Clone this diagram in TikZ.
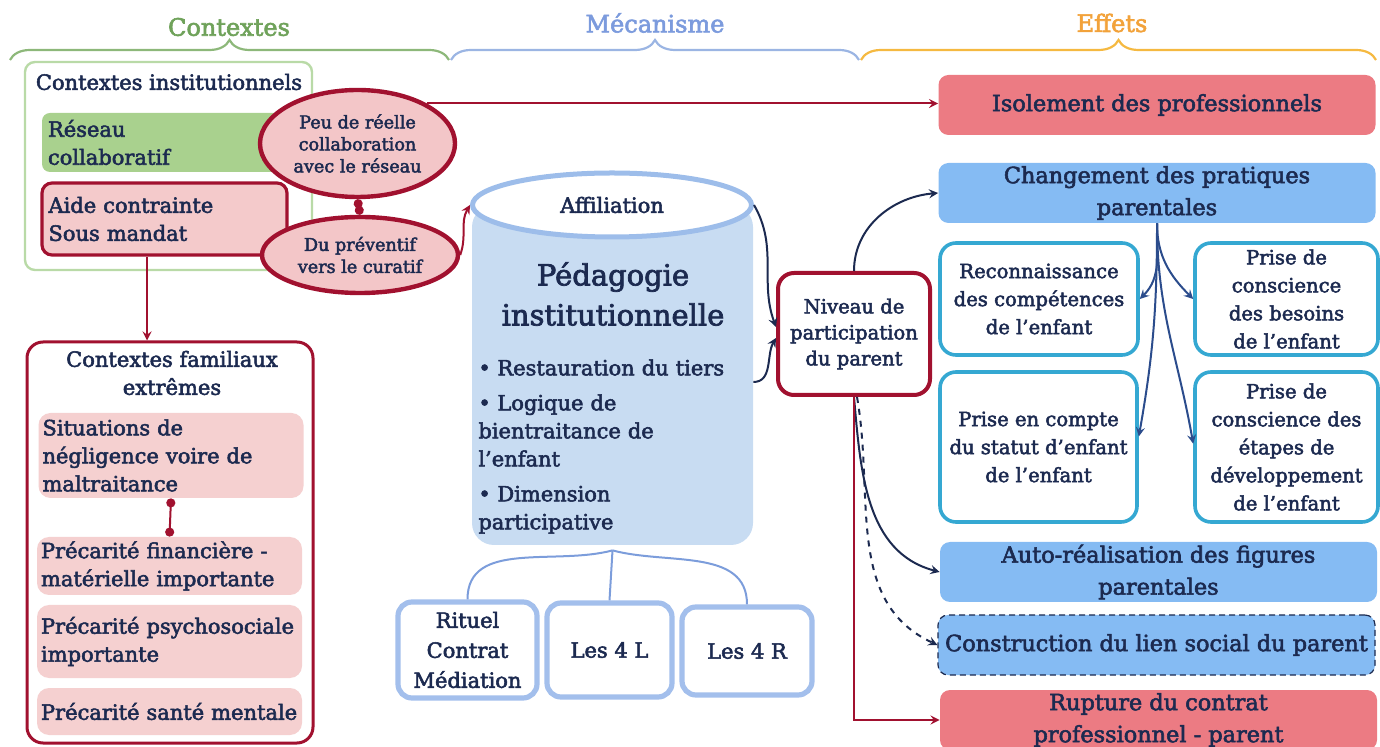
\documentclass[tikz,border=0pt]{standalone}
\usepackage{fontspec}
\setmainfont{DejaVu Serif}[FakeBold=2.5]
\usepackage{xcolor}
\usepackage{tikz}
\usetikzlibrary{shapes.geometric, arrows, arrows.meta, decorations.pathreplacing}

\definecolor{navy}{HTML}{1C2A50}
\definecolor{fannavy}{HTML}{2B4C8C}
\definecolor{darkred}{HTML}{A1112F}
\definecolor{ovalpink}{HTML}{F3C6C8}
\definecolor{aidepink}{HTML}{F4CACB}
\definecolor{fampink}{HTML}{F5D0D0}
\definecolor{resgreen}{HTML}{A9D18E}
\definecolor{instgreen}{HTML}{B9DAA7}
\definecolor{cylblue}{HTML}{C8DCF2}
\definecolor{cylrim}{HTML}{9DBDEA}
\definecolor{subblue}{HTML}{A3BFEC}
\definecolor{forkblue}{HTML}{7C9DDB}
\definecolor{salmon}{HTML}{EC7B83}
\definecolor{effblue}{HTML}{85BBF3}
\definecolor{tealline}{HTML}{35A8D2}
\definecolor{hgreen}{HTML}{6FA25A}
\definecolor{hblue}{HTML}{7C9BDD}
\definecolor{horange}{HTML}{F2A23A}
\definecolor{bgreen}{HTML}{8DB87A}
\definecolor{bblue}{HTML}{9BB5E3}
\definecolor{borange}{HTML}{F5B941}

\tikzstyle{txt} = [text=navy, font=\fontsize{10.5}{14}\selectfont]
\tikzstyle{hdr} = [font=\fontsize{12}{14}\selectfont]
\tikzstyle{hbrace} = [decorate, decoration={brace, amplitude=10pt}, line width=1.1pt]
\tikzstyle{ctxbox} = [draw=instgreen, line width=1.2pt, rounded corners=5pt]
\tikzstyle{greenbox} = [fill=resgreen, rounded corners=4pt, txt, align=left, inner sep=3pt]
\tikzstyle{aidebox} = [fill=aidepink, draw=darkred, line width=1.6pt, rounded corners=5pt, txt, align=left, inner sep=3pt]
\tikzstyle{ovalbox} = [ellipse, draw=darkred, line width=2.2pt, fill=ovalpink, txt, font=\fontsize{8.8}{11}\selectfont, align=center, inner sep=0pt]
\tikzstyle{famframe} = [draw=darkred, line width=1.5pt, rounded corners=8pt, fill=white]
\tikzstyle{pinkbox} = [fill=fampink, rounded corners=6pt, txt, align=left, inner sep=2pt, minimum width=132.5pt, text width=128.5pt]
\tikzstyle{cylbody} = [fill=cylblue, rounded corners=11pt]
\tikzstyle{cyltop} = [ellipse, fill=white, draw=cylrim, line width=2.5pt, txt, inner sep=0pt]
\tikzstyle{subbox} = [draw=subblue, line width=2.6pt, rounded corners=7pt, fill=white, txt, font=\fontsize{10.5}{15}\selectfont, align=center, inner sep=0pt]
\tikzstyle{nivbox} = [draw=darkred, line width=2pt, rounded corners=8pt, fill=white, txt, font=\fontsize{9.8}{13}\selectfont, align=center, inner sep=0pt]
\tikzstyle{effbox} = [rounded corners=5pt, txt, font=\fontsize{11.2}{16}\selectfont, align=center, inner sep=0pt, minimum width=218.5pt, minimum height=30pt]
\tikzstyle{tealbox} = [draw=tealline, line width=1.8pt, rounded corners=8pt, fill=white, txt, font=\fontsize{9.8}{14}\selectfont, align=center, inner sep=0pt]
\tikzstyle{forkline} = [draw=forkblue, line width=1pt]
\tikzstyle{dotlink} = [line width=1pt, {Circle[length=4.5pt]}-{Circle[length=4.5pt]}, draw=darkred]
\tikzstyle{redarrow} = [line width=1pt, ->, >=stealth, draw=darkred]
\tikzstyle{navyarrow} = [line width=1pt, ->, >=stealth, draw=navy]
\tikzstyle{fanarrow} = [line width=1pt, ->, >=stealth, draw=fannavy]

\newcommand{\pitem}[1]{\hangindent=9.5pt\hangafter=1\noindent\makebox[9.5pt][l]{\textbullet}#1\par}

\begin{document}
\begin{tikzpicture}[x=0.5pt,y=-0.5pt]
\useasboundingbox (0,0) rectangle (1380,747);

% Headers and braces
\node[hdr, text=hgreen] (hctx) at (229,27) {Contextes};
\node[hdr, text=hblue] (hmec) at (655,23) {Mécanisme};
\node[hdr, text=horange] (heff) at (1112,23) {Effets};
\draw[hbrace, bgreen] (10,60) -- (449,60);
\draw[hbrace, bblue] (451,60) -- (859,60);
\draw[hbrace, borange] (861,60) -- (1376,60);

% Contextes institutionnels
\node[ctxbox, minimum width=143.5pt, minimum height=104pt] (inst) at (168.5,166) {};
\node[txt] (instT) at (169,82) {Contextes institutionnels};
\node[greenbox, minimum width=129pt, minimum height=29.5pt, text width=123pt] (reseau) at (171,142.5) {Réseau\\collaboratif};
\node[aidebox, minimum width=122.5pt, minimum height=36pt, text width=116pt] (aide) at (164.5,219) {Aide contrainte\\Sous mandat};
\node[ovalbox, minimum width=97.5pt, minimum height=53.5pt] (peu) at (357.5,143.5) {Peu de réelle\\collaboration\\avec le réseau};
\node[ovalbox, minimum width=98pt, minimum height=38pt] (prev) at (360,255) {Du préventif\\vers le curatif};
\draw[dotlink] (peu.south) -- (prev.north);

% Contextes familiaux
\node[famframe, minimum width=143pt, minimum height=200.5pt] (famille) at (170,542.5) {};
\node[txt, align=center] (famT) at (172,373) {Contextes familiaux\\extrêmes};
\node[pinkbox, minimum height=42.5pt] (situ) at (171,455.5) {Situations de\\négligence voire de\\maltraitance};
\node[pinkbox, minimum height=29pt] (finan) at (169.5,566) {Précarité financière -\\matérielle importante};
\node[pinkbox, minimum height=36.5pt] (psycho) at (169.5,641.5) {Précarité psychosociale\\importante};
\node[pinkbox, minimum height=23.5pt] (sante) at (169.5,711.5) {Précarité santé mentale};
\draw[dotlink] (situ.south) -- (finan.north);
\draw[redarrow] ([xshift=-8.75pt]aide.south) -- ([xshift=-8.75pt]aide.south |- famille.north);

% Mecanisme
\node[cylbody, minimum width=140.5pt, minimum height=170pt] (pedbody) at (612.5,375) {};
\node[cyltop, minimum width=139.5pt, minimum height=32pt] (aff) at (612,205) {Affiliation};
\node[txt, font=\fontsize{14.5}{20}\selectfont, align=center] (pedT) at (613,294) {Pédagogie\\institutionnelle};
\node[txt, anchor=north west, inner sep=0pt, text width=130pt, align=left] (pedL) at (478,359)
  {\pitem{Restauration du tiers}\vspace{3.5pt}\pitem{Logique de\\bientraitance de\\l’enfant}\vspace{3.5pt}\pitem{Dimension\\participative}};

\node[subbox, minimum width=69.5pt, minimum height=48pt] (rit) at (467.5,650) {Rituel\\Contrat\\Médiation};
\node[subbox, minimum width=62.5pt, minimum height=47pt] (l4) at (609.5,650) {Les 4 L};
\node[subbox, minimum width=65pt, minimum height=44pt] (r4) at (747,651) {Les 4 R};
\path (pedbody.south) ++(0,5) coordinate (fork);
\draw[forkline] (fork) to[out=195,in=90] (rit.north);
\draw[forkline] (fork) -- (l4.north);
\draw[forkline] (fork) to[out=-15,in=90] (r4.north);

\node[nivbox, minimum width=76pt, minimum height=61pt] (niveau) at (854,334) {Niveau de\\participation\\du parent};

% Effets
\node[effbox, fill=salmon] (iso) at (1157,105) {Isolement des professionnels};
\node[effbox, fill=effblue] (chg) at (1157,193) {Changement des pratiques\\parentales};
\node[tealbox, minimum width=99pt, minimum height=56pt] (reco) at (1039,299) {Reconnaissance\\des compétences\\de l’enfant};
\node[tealbox, minimum width=91.5pt, minimum height=56pt] (besoin) at (1286.5,299) {Prise de\\conscience\\des besoins\\de l’enfant};
\node[tealbox, minimum width=98.5pt, minimum height=75pt] (pec) at (1038.5,447) {Prise en compte\\du statut d’enfant\\de l’enfant};
\node[tealbox, minimum width=91.5pt, minimum height=75pt] (etape) at (1286.5,447) {Prise de\\conscience des\\étapes de\\développement\\de l’enfant};
\node[effbox, fill=effblue] (auto) at (1158.5,572) {Auto-réalisation des figures\\parentales};
\node[effbox, fill=effblue, draw=navy, densely dashed, line width=0.6pt] (cons) at (1156.5,645) {Construction du lien social du parent};
\node[effbox, fill=salmon] (rup) at (1158.5,720) {Rupture du contrat\\professionnel - parent};

% Connectors
\draw[redarrow] (peu.30) -- (peu.30 -| iso.west);
\draw[redarrow] (prev.east) to[out=70,in=240] (aff.west);
\draw[navyarrow] (aff.east) to[out=-60,in=110] ([yshift=3.5pt]niveau.west);
\draw[navyarrow] ([yshift=-3.5pt]pedbody.east) to[out=0,in=240] ([yshift=-2pt]niveau.west);
\draw[navyarrow] (niveau.north) to[out=90,in=185] (chg.west);
\foreach \dest/\anc/\ang in {reco/0/45, besoin/180/135, pec/6/80, etape/178/100}
  \draw[fanarrow] (chg.south) to[out=-90,in=\ang] (\dest.\anc);
\draw[navyarrow] (niveau.south) to[out=-85,in=165] (auto.west);
\draw[navyarrow, dashed] ([xshift=1.5pt]niveau.south) to[out=-80,in=155] (cons.west);
\draw[redarrow] (niveau.south) -- (niveau.south |- rup.west) -- (rup.west);
\end{tikzpicture}
\end{document}
